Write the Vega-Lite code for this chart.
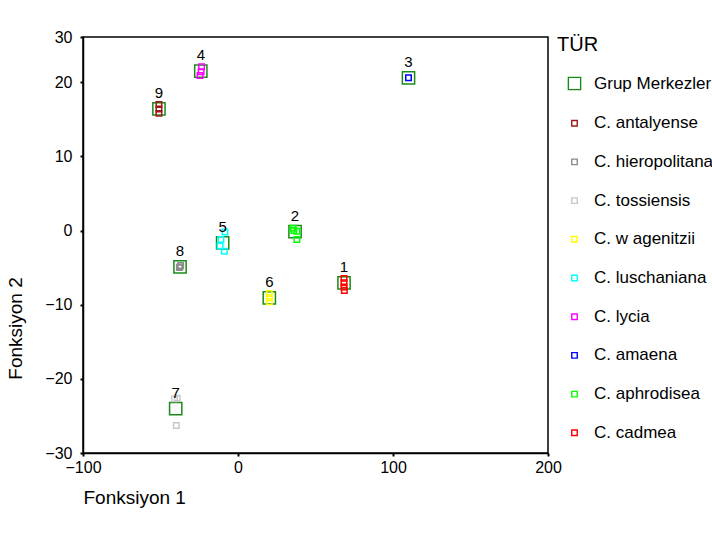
{
  "$schema": "https://vega.github.io/schema/vega-lite/v6.json",
  "width": 465,
  "height": 416,
  "autosize": "none",
  "padding": {"left": 83, "top": 37, "right": 164, "bottom": 82},
  "config": {
    "font": "Liberation Sans",
    "view": {"stroke": "#000", "strokeWidth": 1.5},
    "axis": {"grid": false, "domainColor": "#000", "domainWidth": 1.5, "tickColor": "#000", "tickWidth": 2, "tickSize": 3, "labelFontSize": 16, "labelColor": "#000", "labelFlush": false, "titleFontSize": 19, "titleFontWeight": "normal", "titleColor": "#000"}
  },
  "datasets": {
    "pts": [
      {"grp": "1", "tur": "Grup Merkezler", "f1": 68.4, "f2": -7.05},
      {"grp": "2", "tur": "Grup Merkezler", "f1": 36.8, "f2": -0.15},
      {"grp": "3", "tur": "Grup Merkezler", "f1": 110, "f2": 20.6},
      {"grp": "4", "tur": "Grup Merkezler", "f1": -24, "f2": 21.5},
      {"grp": "5", "tur": "Grup Merkezler", "f1": -9.9, "f2": -1.66},
      {"grp": "6", "tur": "Grup Merkezler", "f1": 20.2, "f2": -9.07},
      {"grp": "7", "tur": "Grup Merkezler", "f1": -40.2, "f2": -24.0},
      {"grp": "8", "tur": "Grup Merkezler", "f1": -37.4, "f2": -4.9},
      {"grp": "9", "tur": "Grup Merkezler", "f1": -51, "f2": 16.4},
      {"grp": "1", "tur": "C. cadmea", "f1": 68.4, "f2": -6.45},
      {"grp": "1", "tur": "C. cadmea", "f1": 68.4, "f2": -7.05},
      {"grp": "1", "tur": "C. cadmea", "f1": 68.4, "f2": -7.6},
      {"grp": "1", "tur": "C. cadmea", "f1": 68.6, "f2": -8.1},
      {"grp": "2", "tur": "C. aphrodisea", "f1": 35.5, "f2": 0.3},
      {"grp": "2", "tur": "C. aphrodisea", "f1": 38, "f2": -0.1},
      {"grp": "2", "tur": "C. aphrodisea", "f1": 38, "f2": -1.2},
      {"grp": "2", "tur": "C. aphrodisea", "f1": 36, "f2": 0},
      {"grp": "3", "tur": "C. amaena", "f1": 110, "f2": 20.6},
      {"grp": "4", "tur": "C. lycia", "f1": -23.5, "f2": 22.1},
      {"grp": "4", "tur": "C. lycia", "f1": -23.8, "f2": 21.4},
      {"grp": "4", "tur": "C. lycia", "f1": -24.5, "f2": 20.9},
      {"grp": "5", "tur": "C. luschaniana", "f1": -8.4, "f2": -0.2},
      {"grp": "5", "tur": "C. luschaniana", "f1": -11, "f2": -1.2},
      {"grp": "5", "tur": "C. luschaniana", "f1": -11.6, "f2": -2.1},
      {"grp": "5", "tur": "C. luschaniana", "f1": -8.8, "f2": -2.8},
      {"grp": "6", "tur": "C. w agenitzii", "f1": 20.2, "f2": -8.5},
      {"grp": "6", "tur": "C. w agenitzii", "f1": 20.2, "f2": -9.07},
      {"grp": "6", "tur": "C. w agenitzii", "f1": 20.2, "f2": -9.6},
      {"grp": "7", "tur": "C. tossiensis", "f1": -41, "f2": -22.7},
      {"grp": "7", "tur": "C. tossiensis", "f1": -39.2, "f2": -22.6},
      {"grp": "7", "tur": "C. tossiensis", "f1": -39.8, "f2": -26.3},
      {"grp": "8", "tur": "C. hieropolitana", "f1": -37.8, "f2": -5.0},
      {"grp": "8", "tur": "C. hieropolitana", "f1": -37.0, "f2": -4.7},
      {"grp": "8", "tur": "C. hieropolitana", "f1": -37.5, "f2": -4.9},
      {"grp": "9", "tur": "C. antalyense", "f1": -51, "f2": 17.0},
      {"grp": "9", "tur": "C. antalyense", "f1": -51, "f2": 16.4},
      {"grp": "9", "tur": "C. antalyense", "f1": -51, "f2": 15.8}
    ]
  },
  "data": {"name": "pts"},
  "encoding": {
    "x": {"field": "f1", "type": "quantitative", "scale": {"domain": [-100, 200], "nice": false, "zero": false},
      "axis": {"values": [-100, 0, 100, 200], "title": "Fonksiyon 1", "titleAnchor": "start", "titleAlign": "left", "titleX": 0, "titleY": 35, "labelPadding": 3}},
    "y": {"field": "f2", "type": "quantitative", "scale": {"domain": [-30, 26.1], "nice": false, "zero": false},
      "axis": {"values": [-30, -20, -10, 0, 10, 20, 26.1], "labelExpr": "datum.value > 25 ? '30' : datum.label", "title": "Fonksiyon 2", "titleX": -58, "titleY": 291, "titleAlign": "center", "labelPadding": 8}}
  },
  "layer": [
    {
      "mark": {"type": "point", "shape": "square", "strokeWidth": 1.5, "filled": false, "opacity": 1},
      "encoding": {
        "order": {"field": "tur", "sort": "descending"},
        "color": {"field": "tur", "type": "nominal",
          "scale": {
            "domain": ["Grup Merkezler", "C. antalyense", "C. hieropolitana", "C. tossiensis", "C. w agenitzii", "C. luschaniana", "C. lycia", "C. amaena", "C. aphrodisea", "C. cadmea"],
            "range": ["#1a8a1a", "#a01818", "#8c8c8c", "#c8c8c8", "#ffff00", "#00ffff", "#ff00ff", "#0000ff", "#00ff00", "#ff0000"]
          },
          "legend": {
            "title": "TÜR", "orient": "none", "legendX": 474, "legendY": -2,
            "titleFontSize": 20, "titleFontWeight": "normal", "titleColor": "#000", "titlePadding": 20,
            "labelFontSize": 17, "labelColor": "#000", "labelOffset": 11,
            "symbolType": "square", "symbolStrokeWidth": 1.4, "symbolFillColor": "#fff", "symbolOffset": 9,
            "rowPadding": 20.7, "padding": 0
          }
        },
        "size": {"field": "tur", "type": "nominal",
          "scale": {
            "type": "ordinal",
            "domain": ["Grup Merkezler", "C. antalyense", "C. hieropolitana", "C. tossiensis", "C. w agenitzii", "C. luschaniana", "C. lycia", "C. amaena", "C. aphrodisea", "C. cadmea"],
            "range": [150, 30, 30, 30, 30, 30, 30, 30, 30, 30]
          },
          "legend": {
            "title": "TÜR", "orient": "none", "legendX": 474, "legendY": -2,
            "titleFontSize": 20, "titleFontWeight": "normal", "titleColor": "#000", "titlePadding": 20,
            "labelFontSize": 17, "labelColor": "#000", "labelOffset": 11,
            "symbolType": "square", "symbolStrokeWidth": 1.4, "symbolFillColor": "#fff", "symbolOffset": 9,
            "rowPadding": 20.7, "padding": 0
          }
        }
      }
    },
    {
      "transform": [{"filter": "datum.tur === 'Grup Merkezler'"}],
      "mark": {"type": "text", "dy": -16, "fontSize": 15, "color": "#000"},
      "encoding": {"text": {"field": "grp", "type": "nominal"}}
    }
  ]
}
